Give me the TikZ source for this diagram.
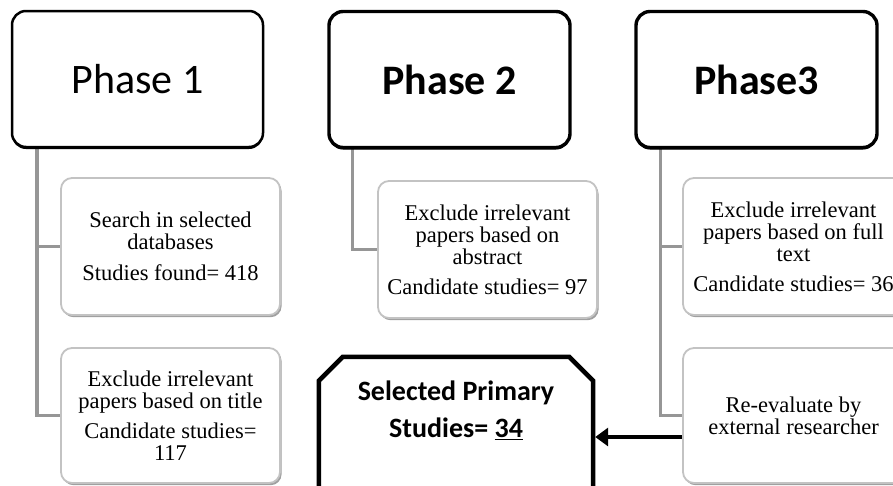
\documentclass[tikz,border=0pt]{standalone}
\usepackage{fontspec}
\setmainfont{Liberation Serif}
\newfontfamily\carl{Carlito}
\usetikzlibrary{shadows,arrows.meta,backgrounds}

\begin{document}
\begin{tikzpicture}[x=1pt,y=-1pt,
  phasebox/.style={draw=black, line width=2.5pt, rounded corners=14pt, fill=white,
    minimum height=136pt, inner sep=0pt,
    drop shadow={shadow xshift=0pt, shadow yshift=-2pt, fill=black, opacity=1}},
  stepbox/.style={draw={rgb,255:red,195;green,195;blue,195}, line width=1.8pt,
    rounded corners=11pt, fill=white, minimum width=219pt, minimum height=137pt,
    inner sep=0pt, align=center, font=\fontsize{22.5}{22}\selectfont,
    drop shadow={shadow xshift=1.6pt, shadow yshift=-2.2pt,
      fill={rgb,255:red,160;green,160;blue,160}, opacity=1}},
  conn/.style={draw={rgb,255:red,150;green,150;blue,150}, line width=3.5pt},
  finalbox/.style={draw=none, minimum width=274pt, minimum height=153pt, inner sep=0pt},
  finaledge/.style={draw=black, line width=4.5pt, fill=white, line join=miter}
]
\useasboundingbox (0,0) rectangle (893,485);

% phase headers
\node[phasebox, minimum width=251pt, font=\carl\fontsize{42}{50}\selectfont] (p1) at (137.5,79) {Phase 1};
\node[phasebox, line width=3.4pt, minimum width=241pt, font=\carl\bfseries\fontsize{42}{50}\selectfont] (p2) at (449.5,79.5) {Phase 2};
\node[phasebox, line width=3.4pt, minimum width=241pt, font=\carl\bfseries\fontsize{42}{50}\selectfont] (p3) at (756.5,79.5) {Phase3};

% phase 1 steps
\node[stepbox] (search) at (170.5,246.5) {Search in selected\\ databases\\[9pt] Studies found= 418};
\node[stepbox, minimum height=135pt] (title) at (170.5,415.5) {Exclude irrelevant\\ papers based on title\\[8pt] Candidate studies=\\ 117};

% phase 2 step
\node[stepbox] (abstract) at (487.5,249.5) {Exclude irrelevant\\ papers based on\\ abstract\\[8pt] Candidate studies= 97};

% phase 3 steps
\node[stepbox, minimum width=221pt] (fulltext) at (793.5,246.5) {Exclude irrelevant\\ papers based on full\\ text\\[8pt] Candidate studies= 36};
\node[stepbox, minimum width=221pt, minimum height=135pt] (reval) at (793.5,415.5) {Re-evaluate by\\ external researcher};

% final selection: box with cut top corners
\node[finalbox] (sel) at (456,433.5) {};
\draw[finaledge] (sel.south west) -- ([yshift=-24pt]sel.north west) -- ([xshift=24pt]sel.north west)
  -- ([xshift=-24pt]sel.north east) -- ([yshift=-24pt]sel.north east) -- (sel.south east);
\node[align=center, font=\carl\bfseries\fontsize{28}{37}\selectfont] (seltxt) at (456,410) {Selected Primary\\ Studies= \underline{34}};

% connectors
\begin{scope}[on background layer]
  \draw[conn] ([xshift=26pt]p1.south west) |- (search.west);
  \draw[conn] ([xshift=26pt]p1.south west) |- (title.west);
  \draw[conn] ([xshift=25pt]p2.south west) |- (abstract.west);
  \draw[conn] ([xshift=26pt]p3.south west) |- (fulltext.west);
  \draw[conn] ([xshift=26pt]p3.south west) |- (reval.west);
\end{scope}
\draw[line width=3.5pt, -{Triangle[length=13pt,width=18pt]}] (reval.west |- 0,437) -- ([xshift=2pt]sel.east |- 0,437);
\end{tikzpicture}
\end{document}
